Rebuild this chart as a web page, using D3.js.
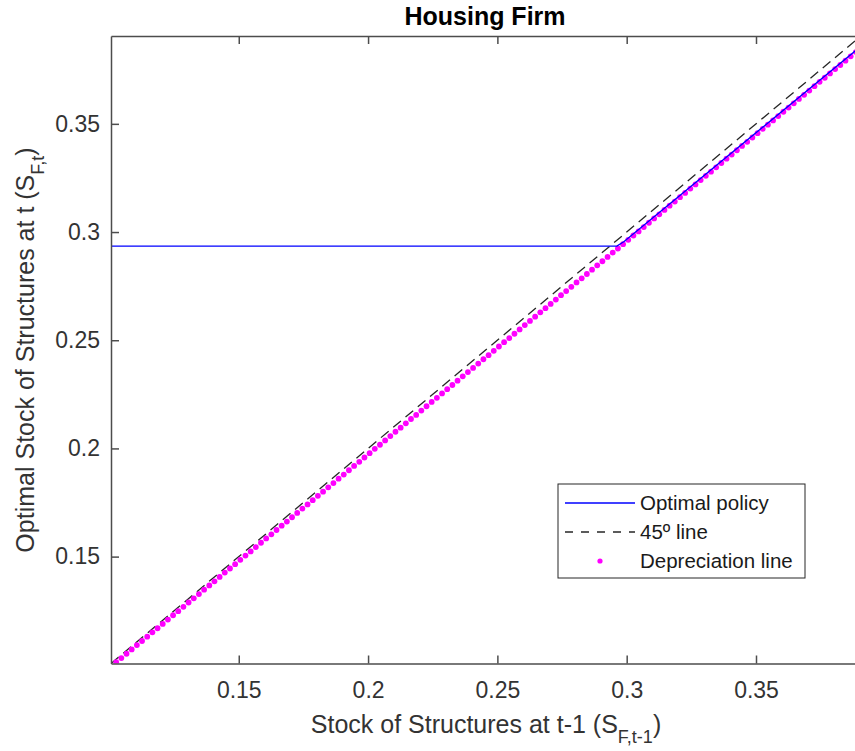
<!DOCTYPE html>
<html>
<head>
<meta charset="utf-8">
<script src="https://d3js.org/d3.v7.min.js"></script>
<title>Housing Firm</title>
<style>
	body { margin: 0; background: #fff; }
	text { font-family: "Liberation Sans", Arial, Helvetica, sans-serif; fill: #262626; }
	.axis path, .axis line { stroke: #4d4d4d; stroke-width: 1.5px; }
	.axis text { font-size: 23px; fill: #333; }
</style>
</head>
<body>
<svg id="chart" width="855" height="751"></svg>
<script>
	// state grid (x) and depreciation line k' = (1-delta) k
	var gridX = [0.1006,0.1026,0.1046,0.1066,0.1086,0.1106,0.1126,0.1146,0.1166,0.1186,
		0.1206,0.1226,0.1246,0.1266,0.1286,0.1306,0.1326,0.1346,0.1366,0.1386,
		0.1406,0.1426,0.1446,0.1466,0.1486,0.1506,0.1526,0.1546,0.1566,0.1586,
		0.1606,0.1626,0.1646,0.1666,0.1686,0.1706,0.1726,0.1746,0.1766,0.1786,
		0.1806,0.1826,0.1846,0.1866,0.1886,0.1906,0.1926,0.1946,0.1966,0.1986,
		0.2006,0.2026,0.2046,0.2066,0.2086,0.2106,0.2126,0.2146,0.2166,0.2186,
		0.2206,0.2226,0.2246,0.2266,0.2286,0.2306,0.2326,0.2346,0.2366,0.2386,
		0.2406,0.2426,0.2446,0.2466,0.2486,0.2506,0.2526,0.2546,0.2566,0.2586,
		0.2606,0.2626,0.2646,0.2666,0.2686,0.2706,0.2726,0.2746,0.2766,0.2786,
		0.2806,0.2826,0.2846,0.2866,0.2886,0.2906,0.2926,0.2946,0.2966,0.2986,
		0.3006,0.3026,0.3046,0.3066,0.3086,0.3106,0.3126,0.3146,0.3166,0.3186,
		0.3206,0.3226,0.3246,0.3266,0.3286,0.3306,0.3326,0.3346,0.3366,0.3386,
		0.3406,0.3426,0.3446,0.3466,0.3486,0.3506,0.3526,0.3546,0.3566,0.3586,
		0.3606,0.3626,0.3646,0.3666,0.3686,0.3706,0.3726,0.3746,0.3766,0.3786,
		0.3806,0.3826,0.3846,0.3866,0.3886,0.3906];

	var deprecY = [0.0992,0.1012,0.1031,0.1051,0.1071,0.1091,0.1110,0.1130,0.1150,0.1169,
		0.1189,0.1209,0.1229,0.1248,0.1268,0.1288,0.1307,0.1327,0.1347,0.1367,
		0.1386,0.1406,0.1426,0.1445,0.1465,0.1485,0.1505,0.1524,0.1544,0.1564,
		0.1584,0.1603,0.1623,0.1643,0.1662,0.1682,0.1702,0.1722,0.1741,0.1761,
		0.1781,0.1800,0.1820,0.1840,0.1860,0.1879,0.1899,0.1919,0.1938,0.1958,
		0.1978,0.1998,0.2017,0.2037,0.2057,0.2077,0.2096,0.2116,0.2136,0.2155,
		0.2175,0.2195,0.2215,0.2234,0.2254,0.2274,0.2293,0.2313,0.2333,0.2353,
		0.2372,0.2392,0.2412,0.2431,0.2451,0.2471,0.2491,0.2510,0.2530,0.2550,
		0.2570,0.2589,0.2609,0.2629,0.2648,0.2668,0.2688,0.2708,0.2727,0.2747,
		0.2767,0.2786,0.2806,0.2826,0.2846,0.2865,0.2885,0.2905,0.2924,0.2944,
		0.2964,0.2984,0.3003,0.3023,0.3043,0.3063,0.3082,0.3102,0.3122,0.3141,
		0.3161,0.3181,0.3201,0.3220,0.3240,0.3260,0.3279,0.3299,0.3319,0.3339,
		0.3358,0.3378,0.3398,0.3417,0.3437,0.3457,0.3477,0.3496,0.3516,0.3536,
		0.3556,0.3575,0.3595,0.3615,0.3634,0.3654,0.3674,0.3694,0.3713,0.3733,
		0.3753,0.3772,0.3792,0.3812,0.3832,0.3851];

	// optimal policy: flat, then a small step onto the depreciation line
	var policyX = [0.1006, 0.2962, 0.2990, 0.3906];
	var policyY = [0.2935, 0.2935, 0.2956, 0.3859];

	var line45X = [0.1006, 0.3906];
	var line45Y = [0.1006, 0.3906];

	var xDomain = [0.1006, 0.3906];
	var yDomain = [0.1006, 0.3906];
	var xTicks = [0.15, 0.2, 0.25, 0.3, 0.35];
	var yTicks = [0.15, 0.2, 0.25, 0.3, 0.35];
	var legendLabels = ["Optimal policy", "45\u00BA line", "Depreciation line"];

	var svg = d3.select("#chart");

	var box = {left: 111, top: 36, right: 861, bottom: 663.5};

	var x = d3.scaleLinear().domain(xDomain).range([box.left, box.right]);
	var y = d3.scaleLinear().domain(yDomain).range([box.bottom, box.top]);

	svg.append("clipPath")
			.attr("id", "plotclip")
		.append("rect")
			.attr("x", box.left)
			.attr("y", box.top)
			.attr("width", box.right - box.left)
			.attr("height", box.bottom - box.top);

	var plot = svg.append("g").attr("clip-path", "url(#plotclip)");

	var line = d3.line()
			.x(function(d) { return x(d[0]); })
			.y(function(d) { return y(d[1]); });

	// 45 degree line
	plot.append("path")
			.datum(d3.zip(line45X, line45Y))
			.attr("fill", "none")
			.attr("stroke", "#262626")
			.attr("stroke-width", 1.3)
			.attr("stroke-dasharray", "10,6")
			.attr("d", line);

	// depreciation line (dots)
	plot.selectAll(".dep")
			.data(d3.zip(gridX, deprecY))
		.enter().append("circle")
			.attr("class", "dep")
			.attr("cx", function(d) { return x(d[0]); })
			.attr("cy", function(d) { return y(d[1]); })
			.attr("r", 2.9)
			.attr("fill", "#ff00ff");

	// optimal policy
	plot.append("path")
			.datum(d3.zip(policyX, policyY))
			.attr("fill", "none")
			.attr("stroke", "#0000ff")
			.attr("stroke-width", 1.3)
			.attr("d", line);

	// axes, ticks pointing inward
	var fmt = function(d) { return String(d); };

	svg.append("g")
			.attr("class", "axis")
			.attr("transform", "translate(0," + box.bottom + ")")
			.call(d3.axisBottom(x).tickValues(xTicks).tickFormat(fmt).tickSizeInner(-8).tickSizeOuter(0).tickPadding(18));

	svg.append("g")
			.attr("class", "axis")
			.attr("transform", "translate(0," + box.top + ")")
			.call(d3.axisTop(x).tickValues(xTicks).tickFormat("").tickSizeInner(-8).tickSizeOuter(0));

	svg.append("g")
			.attr("class", "axis")
			.attr("transform", "translate(" + box.left + ",0)")
			.call(d3.axisLeft(y).tickValues(yTicks).tickFormat(fmt).tickSizeInner(-8).tickSizeOuter(0).tickPadding(11));

	// title
	svg.append("text")
			.attr("x", 485)
			.attr("y", 25)
			.attr("text-anchor", "middle")
			.style("font-size", "25px")
			.style("font-weight", "bold")
			.style("fill", "#000")
			.text("Housing Firm");

	// x label with subscript
	var xl = svg.append("text")
			.attr("x", 486)
			.attr("y", 733)
			.attr("text-anchor", "middle")
			.style("font-size", "25px")
			.style("fill", "#333");
	xl.append("tspan").text("Stock of Structures at t-1 (S");
	xl.append("tspan").attr("dy", 10).style("font-size", "18px").text("F,t-1");
	xl.append("tspan").attr("dy", -10).text(")");

	// y label with subscript
	var yl = svg.append("text")
			.attr("transform", "translate(34,350) rotate(-90)")
			.attr("text-anchor", "middle")
			.style("font-size", "25px")
			.style("fill", "#333");
	yl.append("tspan").text("Optimal Stock of Structures at t (S");
	yl.append("tspan").attr("dy", 10).style("font-size", "18px").text("F,t");
	yl.append("tspan").attr("dy", -10).text(")");

	// legend
	var lg = svg.append("g").attr("transform", "translate(558,484)");
	lg.append("rect")
			.attr("width", 247)
			.attr("height", 94)
			.attr("fill", "#fff")
			.attr("stroke", "#262626")
			.attr("stroke-width", 1);

	var rowY = d3.scalePoint().domain(legendLabels).range([19, 77]);

	lg.append("line")
			.attr("x1", 7).attr("x2", 77)
			.attr("y1", rowY(legendLabels[0])).attr("y2", rowY(legendLabels[0]))
			.attr("stroke", "#0000ff").attr("stroke-width", 1.3);
	lg.append("line")
			.attr("x1", 7).attr("x2", 77)
			.attr("y1", rowY(legendLabels[1])).attr("y2", rowY(legendLabels[1]))
			.attr("stroke", "#262626").attr("stroke-width", 1.3)
			.attr("stroke-dasharray", "8,8");
	lg.append("circle")
			.attr("cx", 42)
			.attr("cy", rowY(legendLabels[2]))
			.attr("r", 2.6)
			.attr("fill", "#ff00ff");

	lg.selectAll(".lbl")
			.data(legendLabels)
		.enter().append("text")
			.attr("class", "lbl")
			.attr("x", 82)
			.attr("y", function(d) { return rowY(d); })
			.attr("dy", "0.35em")
			.style("font-size", "20.5px")
			.style("fill", "#1a1a1a")
			.text(function(d) { return d; });
</script>
</body>
</html>
